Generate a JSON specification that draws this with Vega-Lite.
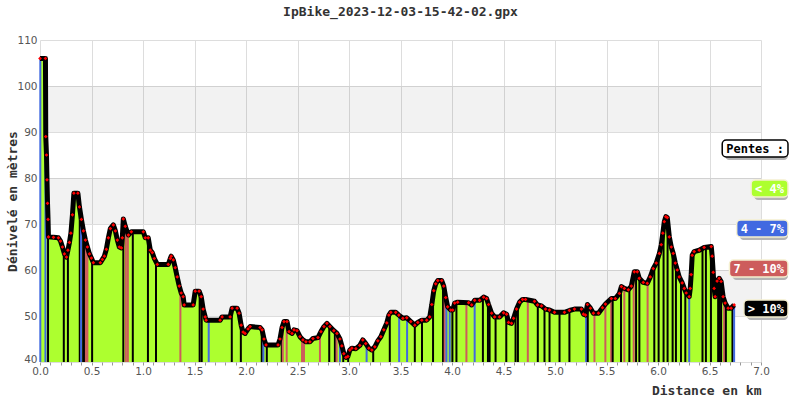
{
  "$schema": "https://vega.github.io/schema/vega-lite/v6.json",
  "width": 721,
  "height": 322,
  "autosize": {"type": "none"},
  "padding": {"left": 40, "top": 40, "right": 39, "bottom": 38},
  "background": "white",
  "view": {"stroke": null},
  "title": {"text": "IpBike_2023-12-03-15-42-02.gpx", "font": "DejaVu Sans Mono", "fontSize": 13, "fontWeight": "bold", "color": "#333333", "anchor": "middle", "offset": 16},
  "datasets": {
    "profile": [
      {"d":0,"e":106},{"d":0.053,"e":106},{"d":0.056,"e":89},{"d":0.063,"e":85},{"d":0.068,"e":79.6},{"d":0.073,"e":74.5},{"d":0.078,"e":71},{"d":0.082,"e":67.2},{"d":0.131,"e":67.1},{"d":0.179,"e":67},{"d":0.199,"e":66.3},{"d":0.218,"e":65},{"d":0.237,"e":63.5},{"d":0.257,"e":62.8},{"d":0.271,"e":64.3},{"d":0.286,"e":66},{"d":0.3,"e":68},{"d":0.315,"e":72},{"d":0.329,"e":76.7},{"d":0.368,"e":76.7},{"d":0.383,"e":73.7},{"d":0.402,"e":71},{"d":0.422,"e":68.5},{"d":0.441,"e":66.5},{"d":0.46,"e":65},{"d":0.48,"e":63.5},{"d":0.499,"e":62.6},{"d":0.518,"e":61.6},{"d":0.586,"e":61.6},{"d":0.606,"e":62.3},{"d":0.625,"e":63},{"d":0.644,"e":64.5},{"d":0.664,"e":67},{"d":0.683,"e":69},{"d":0.712,"e":69.8},{"d":0.732,"e":68.5},{"d":0.751,"e":66.5},{"d":0.77,"e":65},{"d":0.79,"e":64.8},{"d":0.799,"e":67},{"d":0.809,"e":71.1},{"d":0.828,"e":69.5},{"d":0.858,"e":67.6},{"d":0.887,"e":68.3},{"d":1.003,"e":68.3},{"d":1.022,"e":67},{"d":1.051,"e":67},{"d":1.071,"e":64.3},{"d":1.09,"e":63.8},{"d":1.11,"e":62.5},{"d":1.139,"e":61.2},{"d":1.245,"e":61.2},{"d":1.265,"e":62.5},{"d":1.274,"e":63},{"d":1.294,"e":62.2},{"d":1.313,"e":60.5},{"d":1.332,"e":58.5},{"d":1.352,"e":56.5},{"d":1.371,"e":55},{"d":1.39,"e":54.2},{"d":1.4,"e":52.4},{"d":1.487,"e":52.4},{"d":1.507,"e":55.4},{"d":1.545,"e":55.4},{"d":1.565,"e":54.2},{"d":1.584,"e":51.5},{"d":1.604,"e":49.8},{"d":1.613,"e":49.1},{"d":1.749,"e":49.1},{"d":1.768,"e":49.8},{"d":1.846,"e":49.8},{"d":1.865,"e":51.7},{"d":1.914,"e":51.7},{"d":1.933,"e":50.6},{"d":1.953,"e":48},{"d":1.972,"e":46.5},{"d":1.991,"e":46.2},{"d":2.02,"e":47.2},{"d":2.04,"e":47.7},{"d":2.137,"e":47.5},{"d":2.156,"e":47},{"d":2.175,"e":45},{"d":2.195,"e":43.7},{"d":2.311,"e":43.7},{"d":2.33,"e":45},{"d":2.35,"e":47.5},{"d":2.369,"e":48.8},{"d":2.398,"e":48.8},{"d":2.418,"e":46.6},{"d":2.447,"e":46.2},{"d":2.466,"e":47},{"d":2.495,"e":46.8},{"d":2.524,"e":45.5},{"d":2.553,"e":44.8},{"d":2.582,"e":44.4},{"d":2.621,"e":44.4},{"d":2.65,"e":45.1},{"d":2.699,"e":45.3},{"d":2.728,"e":46.6},{"d":2.757,"e":47.7},{"d":2.786,"e":48.4},{"d":2.815,"e":47.7},{"d":2.853,"e":46.8},{"d":2.883,"e":46.2},{"d":2.912,"e":45},{"d":2.931,"e":43.5},{"d":2.95,"e":41.8},{"d":2.97,"e":41},{"d":2.989,"e":41.2},{"d":3.008,"e":42.6},{"d":3.028,"e":43},{"d":3.067,"e":42.9},{"d":3.105,"e":43.6},{"d":3.134,"e":44.8},{"d":3.163,"e":44},{"d":3.193,"e":43},{"d":3.222,"e":42.6},{"d":3.251,"e":43.3},{"d":3.28,"e":44.6},{"d":3.309,"e":45.5},{"d":3.338,"e":47},{"d":3.367,"e":48.5},{"d":3.387,"e":50.2},{"d":3.406,"e":50.8},{"d":3.454,"e":50.8},{"d":3.484,"e":50.2},{"d":3.523,"e":49.5},{"d":3.561,"e":49.6},{"d":3.6,"e":48.8},{"d":3.639,"e":48},{"d":3.668,"e":48.6},{"d":3.707,"e":49.1},{"d":3.755,"e":49.1},{"d":3.784,"e":49.8},{"d":3.804,"e":52.5},{"d":3.823,"e":55.5},{"d":3.842,"e":57},{"d":3.862,"e":57.7},{"d":3.9,"e":57.7},{"d":3.92,"e":56.5},{"d":3.939,"e":54},{"d":3.958,"e":52},{"d":3.988,"e":51.3},{"d":4.007,"e":51.3},{"d":4.026,"e":52.8},{"d":4.055,"e":53},{"d":4.162,"e":52.9},{"d":4.191,"e":52.4},{"d":4.22,"e":53.4},{"d":4.268,"e":53.4},{"d":4.307,"e":54.1},{"d":4.336,"e":53.8},{"d":4.355,"e":52.5},{"d":4.385,"e":50.6},{"d":4.414,"e":49.8},{"d":4.462,"e":49.8},{"d":4.501,"e":50.7},{"d":4.53,"e":50.4},{"d":4.549,"e":48.6},{"d":4.578,"e":48.4},{"d":4.598,"e":49.5},{"d":4.627,"e":51.5},{"d":4.656,"e":53},{"d":4.685,"e":53.6},{"d":4.714,"e":53.6},{"d":4.801,"e":53.2},{"d":4.83,"e":52.4},{"d":4.869,"e":52.2},{"d":4.908,"e":51.5},{"d":4.946,"e":51.3},{"d":4.995,"e":50.8},{"d":5.092,"e":50.8},{"d":5.14,"e":51.2},{"d":5.189,"e":51.5},{"d":5.257,"e":51.5},{"d":5.276,"e":50.4},{"d":5.296,"e":50.2},{"d":5.315,"e":52.5},{"d":5.344,"e":51.7},{"d":5.373,"e":50.6},{"d":5.422,"e":50.6},{"d":5.461,"e":51.8},{"d":5.49,"e":52.6},{"d":5.547,"e":53.8},{"d":5.586,"e":53.8},{"d":5.625,"e":54.9},{"d":5.645,"e":56.4},{"d":5.673,"e":56},{"d":5.712,"e":55.7},{"d":5.741,"e":56.5},{"d":5.77,"e":59.6},{"d":5.799,"e":59.6},{"d":5.818,"e":58.2},{"d":5.857,"e":57.3},{"d":5.896,"e":57.1},{"d":5.925,"e":58.5},{"d":5.954,"e":60.3},{"d":5.983,"e":61.5},{"d":6.013,"e":63.6},{"d":6.032,"e":65.5},{"d":6.047,"e":68},{"d":6.061,"e":70.5},{"d":6.076,"e":71.6},{"d":6.09,"e":71.4},{"d":6.11,"e":67.2},{"d":6.129,"e":65},{"d":6.148,"e":63.6},{"d":6.168,"e":61.5},{"d":6.187,"e":60},{"d":6.206,"e":58.5},{"d":6.235,"e":57.2},{"d":6.255,"e":56},{"d":6.274,"e":55},{"d":6.303,"e":54.2},{"d":6.313,"e":56},{"d":6.322,"e":59},{"d":6.332,"e":63.2},{"d":6.351,"e":64},{"d":6.4,"e":64.3},{"d":6.448,"e":64.9},{"d":6.517,"e":65.1},{"d":6.526,"e":63},{"d":6.536,"e":59.5},{"d":6.545,"e":56},{"d":6.555,"e":54.2},{"d":6.574,"e":57.6},{"d":6.594,"e":58.2},{"d":6.613,"e":57.5},{"d":6.632,"e":54.2},{"d":6.652,"e":52.8},{"d":6.681,"e":51.7},{"d":6.71,"e":51.7},{"d":6.739,"e":52.4}
    ],
    "rules": [
      {"d":0.003,"e":106,"c":"4-7"},{"d":0.053,"e":106,"c":"4-7"},{"d":0.078,"e":71,"c":"gt10"},{"d":0.231,"e":63.8,"c":"gt10"},{"d":0.271,"e":64.3,"c":"gt10"},{"d":0.386,"e":73.5,"c":"gt10"},{"d":0.399,"e":72,"c":"4-7"},{"d":0.419,"e":69,"c":"gt10"},{"d":0.434,"e":67.5,"c":"gt10"},{"d":0.446,"e":66.5,"c":"7-10"},{"d":0.46,"e":65,"c":"7-10"},{"d":0.506,"e":62.3,"c":"gt10"},{"d":0.809,"e":71,"c":"gt10"},{"d":0.833,"e":69.3,"c":"7-10"},{"d":0.853,"e":67.8,"c":"7-10"},{"d":0.901,"e":68.3,"c":"gt10"},{"d":1.048,"e":67,"c":"gt10"},{"d":1.126,"e":61.8,"c":"gt10"},{"d":1.363,"e":55.7,"c":"7-10"},{"d":1.55,"e":55.2,"c":"gt10"},{"d":1.57,"e":54,"c":"gt10"},{"d":1.638,"e":49.1,"c":"4-7"},{"d":1.862,"e":51.5,"c":"gt10"},{"d":1.95,"e":48.2,"c":"gt10"},{"d":2.153,"e":47,"c":"gt10"},{"d":2.169,"e":45.5,"c":"4-7"},{"d":2.202,"e":43.7,"c":"gt10"},{"d":2.347,"e":47.3,"c":"gt10"},{"d":2.357,"e":47.8,"c":"7-10"},{"d":2.395,"e":48.8,"c":"7-10"},{"d":2.544,"e":45,"c":"7-10"},{"d":2.563,"e":44.6,"c":"7-10"},{"d":2.718,"e":46.3,"c":"7-10"},{"d":2.808,"e":47.8,"c":"gt10"},{"d":2.863,"e":46.5,"c":"gt10"},{"d":2.88,"e":46.3,"c":"7-10"},{"d":2.912,"e":45,"c":"4-7"},{"d":2.944,"e":42.3,"c":"gt10"},{"d":2.992,"e":41.3,"c":"gt10"},{"d":3.171,"e":44.1,"c":"4-7"},{"d":3.235,"e":42.8,"c":"gt10"},{"d":3.396,"e":50.6,"c":"gt10"},{"d":3.487,"e":50.1,"c":"4-7"},{"d":3.564,"e":49.6,"c":"4-7"},{"d":3.639,"e":48,"c":"gt10"},{"d":3.709,"e":49.1,"c":"gt10"},{"d":3.816,"e":55.3,"c":"gt10"},{"d":3.913,"e":57.5,"c":"gt10"},{"d":3.929,"e":56.5,"c":"7-10"},{"d":3.946,"e":54.3,"c":"4-7"},{"d":3.978,"e":51.7,"c":"4-7"},{"d":4.004,"e":51.3,"c":"gt10"},{"d":4.043,"e":52.9,"c":"gt10"},{"d":4.14,"e":52.9,"c":"7-10"},{"d":4.22,"e":53.4,"c":"4-7"},{"d":4.3,"e":54,"c":"gt10"},{"d":4.349,"e":53,"c":"gt10"},{"d":4.365,"e":52,"c":"gt10"},{"d":4.423,"e":49.8,"c":"gt10"},{"d":4.527,"e":50.4,"c":"gt10"},{"d":4.617,"e":50.8,"c":"gt10"},{"d":4.64,"e":52,"c":"gt10"},{"d":4.736,"e":53.5,"c":"7-10"},{"d":4.833,"e":52.4,"c":"gt10"},{"d":4.898,"e":51.7,"c":"gt10"},{"d":4.947,"e":51.3,"c":"gt10"},{"d":5.044,"e":50.8,"c":"gt10"},{"d":5.14,"e":51.2,"c":"gt10"},{"d":5.302,"e":50.5,"c":"4-7"},{"d":5.318,"e":52.4,"c":"gt10"},{"d":5.383,"e":50.6,"c":"7-10"},{"d":5.489,"e":52.6,"c":"7-10"},{"d":5.545,"e":53.7,"c":"7-10"},{"d":5.56,"e":53.8,"c":"gt10"},{"d":5.641,"e":56,"c":"gt10"},{"d":5.673,"e":56,"c":"7-10"},{"d":5.722,"e":55.7,"c":"gt10"},{"d":5.764,"e":58.5,"c":"7-10"},{"d":5.787,"e":59.6,"c":"gt10"},{"d":5.819,"e":58.2,"c":"gt10"},{"d":5.899,"e":57.2,"c":"7-10"},{"d":5.964,"e":61,"c":"gt10"},{"d":6.006,"e":63.3,"c":"gt10"},{"d":6.054,"e":69.5,"c":"gt10"},{"d":6.093,"e":71.4,"c":"gt10"},{"d":6.142,"e":63.8,"c":"gt10"},{"d":6.174,"e":61.5,"c":"gt10"},{"d":6.223,"e":57.6,"c":"gt10"},{"d":6.265,"e":55.3,"c":"gt10"},{"d":6.303,"e":54.2,"c":"4-7"},{"d":6.432,"e":64.7,"c":"gt10"},{"d":6.465,"e":64.9,"c":"gt10"},{"d":6.514,"e":65.1,"c":"gt10"},{"d":6.584,"e":58,"c":"gt10"},{"d":6.599,"e":58.2,"c":"gt10"},{"d":6.613,"e":57.5,"c":"gt10"},{"d":6.642,"e":54,"c":"7-10"},{"d":6.659,"e":52.8,"c":"gt10"},{"d":6.723,"e":51.9,"c":"gt10"},{"d":6.739,"e":52.4,"c":"4-7"}
    ],
    "bands": [{"lo":50,"hi":60},{"lo":70,"hi":80},{"lo":90,"hi":100}],
    "legend": [
      {"label":"Pentes :","c":"title"},{"label":"< 4%","c":"lt4"},{"label":"4 - 7%","c":"4-7"},{"label":"7 - 10%","c":"7-10"},{"label":"> 10%","c":"gt10"}
    ]
  },
  "layer": [
    {
      "layer": [
        {
          "data": {"name": "bands"},
          "mark": {"type": "rect", "color": "#000000", "opacity": 0.05},
          "encoding": {
            "x": {"datum": 0, "type": "quantitative"},
            "x2": {"datum": 7},
            "y": {"field": "lo", "type": "quantitative"},
            "y2": {"field": "hi"}
          }
        },
        {
          "data": {"name": "profile"},
          "mark": {"type": "area", "color": "#adff2f", "opacity": 1},
          "encoding": {
            "x": {"field": "d", "type": "quantitative"},
            "y": {"field": "e", "type": "quantitative"},
            "y2": {"datum": 40}
          }
        },
        {
          "data": {"name": "rules"},
          "mark": {"type": "rule", "strokeWidth": 2},
          "encoding": {
            "x": {"field": "d", "type": "quantitative"},
            "y": {"field": "e", "type": "quantitative"},
            "y2": {"datum": 40},
            "color": {"field": "c", "type": "nominal", "legend": null, "scale": {"domain": ["title","lt4","4-7","7-10","gt10"], "range": ["#ffffff","#adff2f","#4169e1","#cd5c5c","#000000"]}}
          }
        },
        {
          "data": {"name": "profile"},
          "mark": {"type": "line", "color": "#000000", "strokeWidth": 5, "strokeJoin": "round"},
          "encoding": {
            "x": {"field": "d", "type": "quantitative"},
            "y": {"field": "e", "type": "quantitative"}
          }
        },
        {
          "data": {"name": "profile"},
          "mark": {"type": "point", "shape": "diamond", "filled": true, "color": "#ff0000", "size": 14, "opacity": 1},
          "encoding": {
            "x": {"field": "d", "type": "quantitative", "scale": {"domain": [0, 7], "nice": false},
              "axis": {"title": "Distance en km", "titleAnchor": "end", "titleFont": "DejaVu Sans Mono", "titleFontSize": 13, "titleFontWeight": "bold", "titleColor": "#333333", "titlePadding": 8,
                "tickCount": 70, "labelOverlap": false, "labelFlush": false, "labelFont": "DejaVu Sans", "labelFontSize": 10.5, "labelColor": "#555555", "labelPadding": 1,
                "labelExpr": "abs(datum.value*2 - round(datum.value*2)) < 0.001 ? format(datum.value, '.1f') : ''",
                "grid": true, "gridColor": "#dddddd", "gridOpacity": {"condition": {"test": "abs(datum.value*2 - round(datum.value*2)) < 0.001", "value": 1}, "value": 0},
                "domain": false, "ticks": true, "tickSize": 3, "tickColor": "#999999"}},
            "y": {"field": "e", "type": "quantitative", "scale": {"domain": [40, 110], "nice": false, "zero": false},
              "axis": {"title": "Dénivelé en mètres", "titleFont": "DejaVu Sans Mono", "titleFontSize": 13, "titleFontWeight": "bold", "titleColor": "#333333", "titleX": -28, "titleBaseline": "middle",
                "values": [40,50,60,70,80,90,100,110], "labelFont": "DejaVu Sans", "labelFontSize": 10.5, "labelColor": "#555555", "labelPadding": 3,
                "labelBaseline": {"condition": {"test": "datum.value === 40", "value": "alphabetic"}, "value": "middle"},
                "grid": true, "gridColor": "#dddddd", "domain": false, "ticks": false}}
          }
        }
      ]
    },
    {
      "data": {"name": "legend"},
      "transform": [
        {"calculate": "(length(datum.label) * 7.22 + 8) / 103", "as": "w"},
        {"calculate": "7.262 - datum.w", "as": "left"},
        {"calculate": "7.262 - datum.w / 2", "as": "mid"}
      ],
      "encoding": {
        "y": {"field": "label", "type": "nominal", "axis": null, "sort": null,
          "scale": {"type": "band", "domain": ["Pentes :","< 4%","4 - 7%","7 - 10%","> 10%"], "range": [100, 277], "paddingInner": 0.575, "paddingOuter": 0}}
      },
      "layer": [
        {
          "mark": {"type": "bar", "color": "#b4b4b4", "cornerRadius": 4, "xOffset": 3, "yOffset": 3},
          "encoding": {
            "x": {"field": "left", "type": "quantitative", "axis": null, "scale": {"domain": [0, 7], "nice": false}},
            "x2": {"datum": 7.262}
          }
        },
        {
          "mark": {"type": "bar", "cornerRadius": 4, "strokeWidth": 1.5},
          "encoding": {
            "x": {"field": "left", "type": "quantitative", "axis": null, "scale": {"domain": [0, 7], "nice": false}},
            "x2": {"datum": 7.262},
            "color": {"field": "c", "type": "nominal", "legend": null, "scale": {"domain": ["title","lt4","4-7","7-10","gt10"], "range": ["#ffffff","#adff2f","#4169e1","#cd5c5c","#000000"]}},
            "stroke": {"condition": {"test": "datum.c === 'title'", "value": "#000000"}, "value": "#f5f0d0"}
          }
        },
        {
          "mark": {"type": "text", "font": "DejaVu Sans Mono", "fontSize": 12, "fontWeight": "bold", "align": "center", "baseline": "middle"},
          "encoding": {
            "x": {"field": "mid", "type": "quantitative", "axis": null, "scale": {"domain": [0, 7], "nice": false}},
            "text": {"field": "label"},
            "color": {"condition": {"test": "datum.c === 'title'", "value": "#000000"}, "value": "#ffffff"}
          }
        }
      ]
    }
  ],
  "resolve": {"scale": {"x": "independent", "y": "independent", "color": "independent"}, "axis": {"x": "independent", "y": "independent"}}
}
